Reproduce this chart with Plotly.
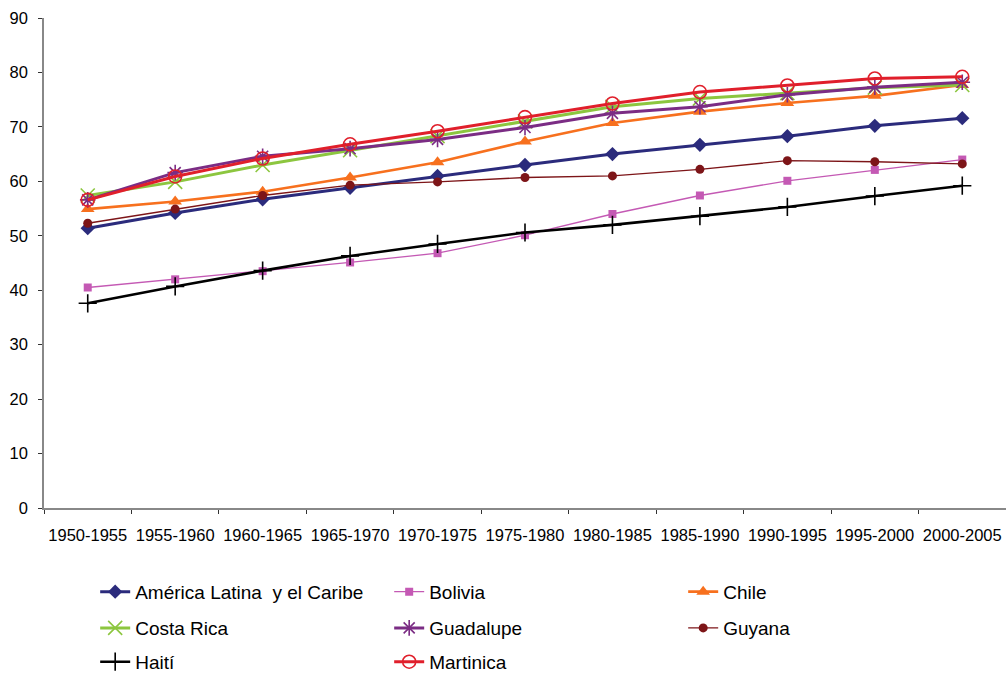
import plotly.graph_objects as go

periods = ["1950-1955", "1955-1960", "1960-1965", "1965-1970", "1970-1975", "1975-1980",
           "1980-1985", "1985-1990", "1990-1995", "1995-2000", "2000-2005"]

america_latina = [51.4, 54.2, 56.7, 58.8, 61.0, 63.0, 65.0, 66.7, 68.3, 70.2, 71.6]
bolivia = [40.5, 42.0, 43.5, 45.1, 46.8, 50.1, 54.0, 57.4, 60.1, 62.1, 64.0]
chile = [54.9, 56.3, 58.1, 60.7, 63.5, 67.3, 70.7, 72.8, 74.4, 75.7, 77.7]
costa_rica = [57.4, 59.9, 63.0, 65.7, 68.3, 71.0, 73.7, 75.2, 76.2, 77.2, 77.7]
guadalupe = [56.6, 61.6, 64.6, 66.0, 67.7, 69.9, 72.5, 73.7, 75.9, 77.3, 78.2]
guyana = [52.3, 54.9, 57.4, 59.3, 59.9, 60.7, 61.0, 62.2, 63.8, 63.6, 63.2]
haiti = [37.6, 40.7, 43.6, 46.3, 48.5, 50.6, 52.0, 53.6, 55.3, 57.3, 59.2]
martinica = [56.6, 60.9, 64.2, 66.8, 69.2, 71.8, 74.3, 76.4, 77.6, 78.9, 79.2]

series = [
    ("América Latina\u00a0 y el Caribe", america_latina, "#2B2B7C", 3, "diamond", 11, "legend"),
    ("Bolivia", bolivia, "#C459B4", 1.3, "square", 8, "legend"),
    ("Chile", chile, "#F7701E", 2.6, "triangle-up", 12, "legend"),
    ("Costa Rica", costa_rica, "#8CC63F", 3, "x-thin-open", 14, "legend2"),
    ("Guadalupe", guadalupe, "#7B2C84", 3, "asterisk-open", 13, "legend2"),
    ("Guyana", guyana, "#7D1518", 1.4, "circle", 9, "legend2"),
    ("Haití", haiti, "#000000", 2.6, "cross-thin-open", 13, "legend3"),
    ("Martinica", martinica, "#E01F2B", 3, "circle-open", 13, "legend3"),
]

fig = go.Figure()
for name, vals, color, lw, sym, ms, leg in series:
    fig.add_trace(go.Scatter(
        x=periods, y=vals, name=name, mode="lines+markers",
        line=dict(color=color, width=lw),
        marker=dict(symbol=sym, size=ms, color=color,
                    line=dict(color=color, width=1.6 if "open" in sym else 0)),
        legend=leg,
    ))

font = dict(family="Liberation Sans, Arial, Helvetica, sans-serif", size=16.5, color="#000000")
legfont = dict(family="Liberation Sans, Arial, Helvetica, sans-serif", size=19, color="#000000")
legcommon = dict(orientation="h", x=0.0532, xanchor="left", yanchor="middle",
                 entrywidth=249, entrywidthmode="pixels", font=legfont,
                 bgcolor="rgba(0,0,0,0)", borderwidth=0, itemclick=False)

fig.update_layout(
    width=1006, height=673,
    margin=dict(l=43.5, r=0, t=18, b=165, autoexpand=False),
    paper_bgcolor="white", plot_bgcolor="white",
    font=font,
    showlegend=True,
    legend=dict(y=-0.171, **legcommon),
    legend2=dict(y=-0.245, **legcommon),
    legend3=dict(y=-0.314, **legcommon),
    xaxis=dict(type="category", range=[-0.5, 10.5], showline=True, linecolor="#888888",
               linewidth=1.5, ticks="outside", tickson="boundaries", ticklen=4,
               tickcolor="#333333", showgrid=False, zeroline=False, tickangle=0,
               automargin=False, ticklabelstandoff=11, tickfont=font),
    yaxis=dict(range=[0, 90], dtick=10, showline=True, linecolor="#888888", linewidth=1.5,
               ticks="outside", ticklen=4, tickcolor="#333333", showgrid=False,
               automargin=False, zeroline=False, ticklabelstandoff=7, tickfont=font),
)

fig.write_html("out.html", config={"displayModeBar": False},
               post_script="document.body.style.margin='0';document.body.style.overflow='hidden';")
